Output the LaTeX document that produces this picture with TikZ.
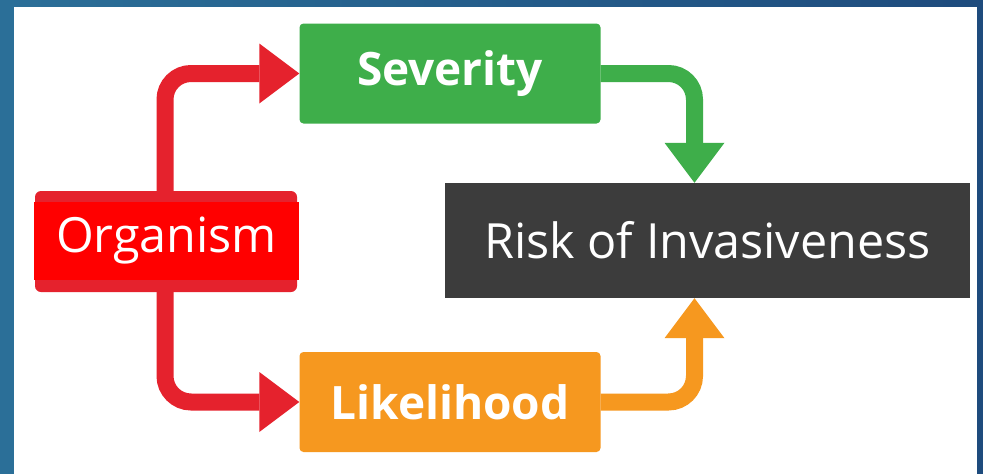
\documentclass[tikz,border=0pt]{standalone}
\usepackage{fontspec}
\setmainfont{Open Sans}
\usetikzlibrary{arrows.meta,positioning}

\definecolor{frameblue}{HTML}{2B6F98}
\definecolor{framedark}{HTML}{1E4B7D}
\definecolor{orgred}{HTML}{FF0000}
\definecolor{arrowred}{HTML}{E5222D}
\definecolor{sevgreen}{HTML}{3EAE4A}
\definecolor{likorange}{HTML}{F6981F}
\definecolor{riskgray}{HTML}{3C3C3C}

\begin{document}
\begin{tikzpicture}[
		x=1pt,
		y=-1pt,
		box/.style={
			rectangle,
			inner sep=0pt,
			text=white,
		},
		stepbox/.style={
			box,
			rounded corners=4pt,
			minimum width=301pt,
			minimum height=100pt,
			font=\bfseries\fontsize{46}{46}\selectfont,
		},
		bigbox/.style={
			box,
			font=\fontsize{48.5}{48.5}\selectfont,
		},
		flow/.style={
			line width=17pt,
			rounded corners=26pt,
			-{Triangle[length=40pt,width=60pt,line width=0pt]},
		},
	]
		\shade[left color=frameblue, right color=framedark] (0,0) rectangle (983,474);
		\fill[white] (14,7) rectangle (977,474);

		\node[stepbox, fill=sevgreen] (sev) at (450,73.5) {Severity};
		\node[stepbox, fill=likorange] (lik) at (450,402) {Likelihood};
		\node[bigbox, fill=riskgray, minimum width=525pt, minimum height=115pt] (risk) at (707.5,240.5) {Risk of Invasiveness};
		\node[box, rounded corners=6pt, fill=arrowred, minimum width=262pt, minimum height=101pt] (orgbase) at (166,241.5) {};
		\node[bigbox, fill=orgred, minimum width=265pt, minimum height=78pt] (org) at (166.5,241) {Organism};

		\draw[flow, arrowred] ([xshift=-1pt]orgbase.north) |- (sev.west);
		\draw[flow, arrowred] ([xshift=-1pt]orgbase.south) |- (lik.west);
		\draw[flow, sevgreen] (sev.east) -| ([xshift=-13pt]risk.north);
		\draw[flow, likorange] (lik.east) -| ([xshift=-13pt]risk.south);
	\end{tikzpicture}
\end{document}
